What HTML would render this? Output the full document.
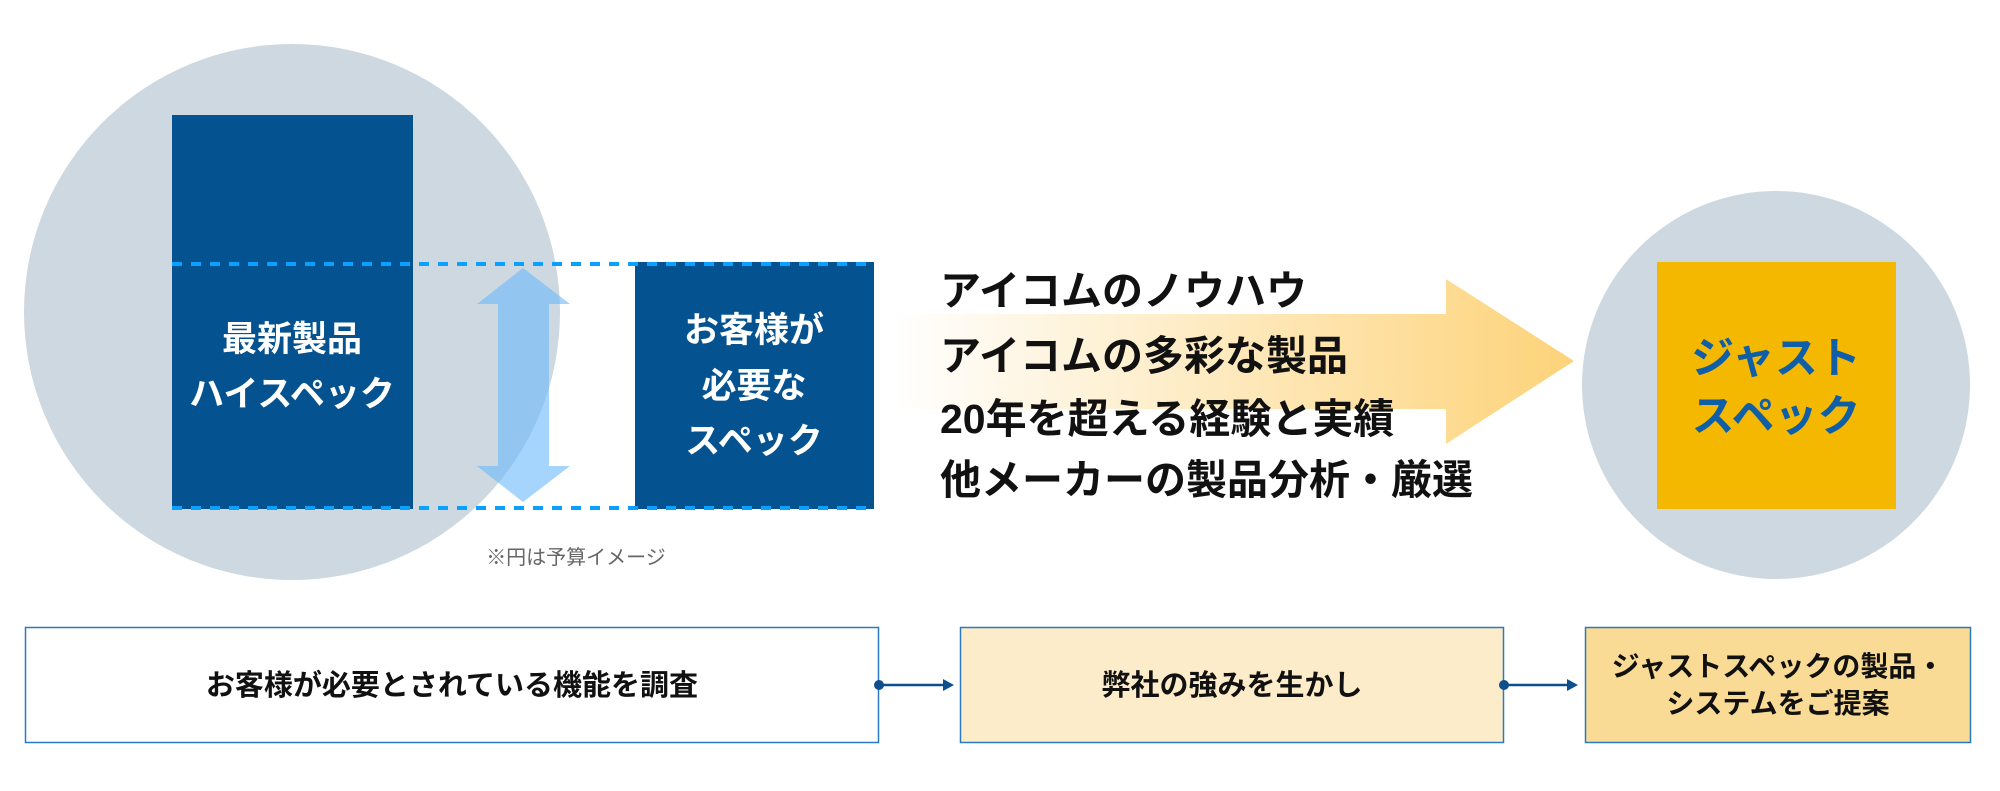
<!DOCTYPE html>
<html><head><meta charset="utf-8"><style>
html,body{margin:0;padding:0;background:#fff;}
svg{display:block;}
text{font-family:"Liberation Sans","Noto Sans CJK JP",sans-serif;font-weight:bold;}
</style></head><body>
<svg width="2000" height="791" viewBox="0 0 2000 791" xmlns="http://www.w3.org/2000/svg">
<defs>
<linearGradient id="g" x1="893" y1="0" x2="1574" y2="0" gradientUnits="userSpaceOnUse">
<stop offset="0" stop-color="#fdd37a" stop-opacity="0"/>
<stop offset="1" stop-color="#fdd37a"/>
</linearGradient>
</defs>
<circle cx="292" cy="312" r="268" fill="#cdd8e0"/>
<rect x="172" y="115" width="241" height="394" fill="#04528f"/>
<rect x="635" y="262" width="239" height="247" fill="#04528f"/>
<line x1="172" y1="264" x2="874" y2="264" stroke="#0aa0ff" stroke-width="4" stroke-dasharray="10 9"/>
<line x1="172" y1="508" x2="874" y2="508" stroke="#0aa0ff" stroke-width="4" stroke-dasharray="10 9"/>
<polygon points="523,268 570,304 549,304 549,466 570,466 523,502 477,466 498,466 498,304 477,304" fill="rgb(110,185,250)" fill-opacity="0.62"/>
<text x="292" y="351" font-size="35" fill="#fff" text-anchor="middle">最新製品</text>
<text x="292" y="406" font-size="35" fill="#fff" text-anchor="middle">ハイスペック</text>
<text x="754" y="342" font-size="35" fill="#fff" text-anchor="middle">お客様が</text>
<text x="754" y="398" font-size="35" fill="#fff" text-anchor="middle">必要な</text>
<text x="754" y="453" font-size="35" fill="#fff" text-anchor="middle">スペック</text>
<text x="576" y="564" font-size="20" fill="#666" text-anchor="middle" style="font-weight:normal">※円は予算イメージ</text>
<polygon points="893,314 1446,314 1446,279 1574,361 1446,444 1446,409 893,409" fill="url(#g)"/>
<text x="940" y="305" font-size="41" fill="#111">アイコムのノウハウ</text>
<text x="940" y="370" font-size="41" fill="#111">アイコムの多彩な製品</text>
<text x="940" y="433" font-size="41" fill="#111">20年を超える経験と実績</text>
<text x="940" y="494" font-size="41" fill="#111">他メーカーの製品分析・厳選</text>
<circle cx="1776" cy="385" r="194" fill="#cdd8e0"/>
<rect x="1657" y="262" width="239" height="247" fill="#f5b800"/>
<text x="1776" y="373" font-size="43" fill="#0f5fa8" text-anchor="middle">ジャスト</text>
<text x="1776" y="431" font-size="43" fill="#0f5fa8" text-anchor="middle">スペック</text>
<rect x="25.5" y="627.5" width="853" height="115" fill="#fff" stroke="#2a7abf" stroke-width="1.5"/>
<rect x="960.5" y="627.5" width="543" height="115" fill="#fcecc9" stroke="#2a7abf" stroke-width="1.5"/>
<rect x="1585.5" y="627.5" width="385" height="115" fill="#fadb96" stroke="#2a7abf" stroke-width="1.5"/>
<text x="452" y="695" font-size="29" fill="#111" text-anchor="middle">お客様が必要とされている機能を調査</text>
<text x="1232" y="695" font-size="29" fill="#111" text-anchor="middle">弊社の強みを生かし</text>
<text x="1778" y="676" font-size="28" fill="#111" text-anchor="middle">ジャストスペックの製品・</text>
<text x="1778" y="713" font-size="28" fill="#111" text-anchor="middle">システムをご提案</text>
<circle cx="879" cy="685" r="5" fill="#0d4f8a"/>
<line x1="879" y1="685" x2="945" y2="685" stroke="#0d4f8a" stroke-width="2.5"/>
<polygon points="943,679 954,685 943,691" fill="#0d4f8a"/>
<circle cx="1504" cy="685" r="5" fill="#0d4f8a"/>
<line x1="1504" y1="685" x2="1569" y2="685" stroke="#0d4f8a" stroke-width="2.5"/>
<polygon points="1567,679 1578,685 1567,691" fill="#0d4f8a"/>
</svg>
</body></html>
